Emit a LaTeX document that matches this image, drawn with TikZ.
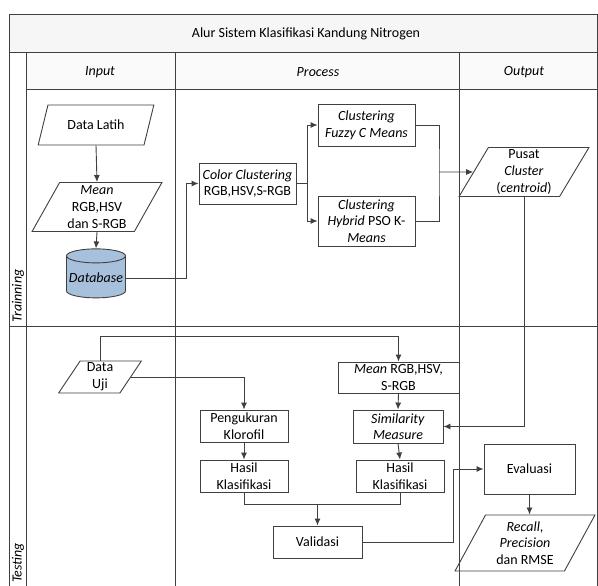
\documentclass[tikz,border=0pt]{standalone}
\usepackage{fontspec}
\setmainfont{Carlito}
\usetikzlibrary{shapes.geometric,arrows.meta}
\definecolor{lineclr}{HTML}{404040}
\definecolor{dbblue}{HTML}{A7C0DC}

\begin{document}
\begin{tikzpicture}[x=1pt, y=-1pt, font=\fontsize{14}{16.6}\selectfont,
    frame/.style={draw=lineclr, line width=1pt},
    box/.style={draw=lineclr, line width=0.9pt, rectangle, align=center, inner sep=1pt},
    iobox/.style={draw=lineclr, line width=0.9pt, trapezium, trapezium left angle=63, trapezium right angle=117, trapezium stretches=true, align=center, inner sep=1pt},
    arr/.style={draw=lineclr, line width=0.9pt, -{Latex[length=7pt,width=6pt]}},
    ln/.style={draw=lineclr, line width=0.9pt}]
    % Swimlane frame
    \fill[white] (0,0) rectangle (598,586);
    \useasboundingbox (0,0) rectangle (598,586);
    \clip (0,0) rectangle (598,586);
    \fill[gray!7] (9.5,15) rectangle (597,53);
    \fill[gray!4] (26,53) rectangle (597,90);
    \draw[frame] (9.5,600) -- (9.5,15) -- (597,15) -- (597,600);
    \draw[frame] (9.5,53) -- (597,53);
    \draw[frame] (26,90) -- (597,90);
    \draw[frame] (9.5,326) -- (597,326);
    \foreach \cx in {26,175,459} \draw[frame] (\cx,53) -- (\cx,600);

    % Title and column heads
    \node (title) at (306,34) {Alur Sistem Klasifikasi Kandung Nitrogen};
    \node (hinput) at (100,72) {\textit{Input}};
    \node (hprocess) at (318,72) {\textit{Process}};
    \node (houtput) at (524,72) {\textit{Output}};
    \node[rotate=90, anchor=west, inner sep=1pt] (ltrain) at (18,324) {\textit{Trainning}};
    \node[rotate=90, anchor=west, inner sep=1pt] (ltest) at (18,584) {\textit{Testing}};

    % Training lane
    \node[iobox, minimum width=116, minimum height=40] (datalatih) at (96,125) {Data Latih};
    \node[iobox, minimum width=130, minimum height=49] (meanin) at (97,207) {\textit{Mean}\\RGB,HSV\\dan S-RGB};
    \node[cylinder, shape border rotate=90, draw=lineclr, line width=0.9pt, fill=dbblue, aspect=0.25, minimum width=59, minimum height=49, inner sep=1pt] (db) at (96,278) {\textit{Database}};
    \node[box, minimum width=97, minimum height=41] (cc) at (247.5,183.5) {\textit{Color Clustering}\\RGB,HSV,S-RGB};
    \node[box, minimum width=97, minimum height=42] (fcm) at (366.5,125) {\textit{Clustering}\\\textit{Fuzzy C Means}};
    \node[box, minimum width=97, minimum height=50] (pso) at (366.5,221) {\textit{Clustering}\\\textit{Hybrid} PSO K-\\\textit{Means}};
    \node[iobox, minimum width=130, minimum height=49] (pusat) at (524,172) {Pusat\\\textit{Cluster}\\(\textit{centroid})};
    \coordinate (mrg) at (439,172);

    \draw[arr] (datalatih.south) -- (meanin.north);
    \draw[arr] (meanin.south) -- (db.north);
    \draw[arr] (db.east) -| ([xshift=-12pt]cc.west) -- (cc.west);
    \draw[arr] (cc.east) -- ++(11,0) |- (fcm.west);
    \draw[arr] (cc.east) -- ++(11,0) |- (pso.west);
    \draw[ln] (fcm.east) -| (mrg) |- (pso.east);
    \draw[arr] (mrg) -- (pusat.west);

    % Testing lane
    \node[iobox, minimum width=83, minimum height=32] (datauji) at (100,377) {Data\\Uji};
    \node[box, minimum width=121, minimum height=31] (meants) at (398.5,377.5) {\textit{Mean} RGB,HSV,\\S-RGB};
    \node[box, minimum width=90, minimum height=33] (sim) at (398,426.5) {\textit{Similarity}\\\textit{Measure}};
    \node[box, minimum width=88, minimum height=32] (peng) at (244,426) {Pengukuran\\Klorofil};
    \node[box, minimum width=88, minimum height=32] (hasila) at (244,476) {Hasil\\Klasifikasi};
    \node[box, minimum width=88, minimum height=32] (hasilb) at (400,476) {Hasil\\Klasifikasi};
    \node[box, minimum width=89, minimum height=32] (valid) at (317.5,542) {Validasi};
    \node[box, minimum width=91, minimum height=50] (eval) at (529.5,469) {Evaluasi};
    \node[iobox, minimum width=140, minimum height=56] (recall) at (525,543) {\textit{Recall},\\\textit{Precision}\\dan RMSE};
    \coordinate (jv) at (317.5,504);

    \draw[arr] (pusat.south) |- (sim.east);
    \draw[arr] (datauji.north) -- ++(0,-24) -| (meants.north);
    \draw[arr] (datauji.east) -| (peng.north);
    \draw[arr] (peng.south) -- (hasila.north);
    \draw[arr] (meants.south) -- (sim.north);
    \draw[arr] (sim.south) -- (hasilb.north);
    \draw[ln] (hasila.south) |- (jv);
    \draw[ln] (hasilb.south) |- (jv);
    \draw[arr] (jv) -- (valid.north);
    \draw[arr] (valid.east) -- ++(91,0) |- (eval.west);
    \draw[arr] (eval.south) -- (eval.south |- recall.north);
\end{tikzpicture}
\end{document}
